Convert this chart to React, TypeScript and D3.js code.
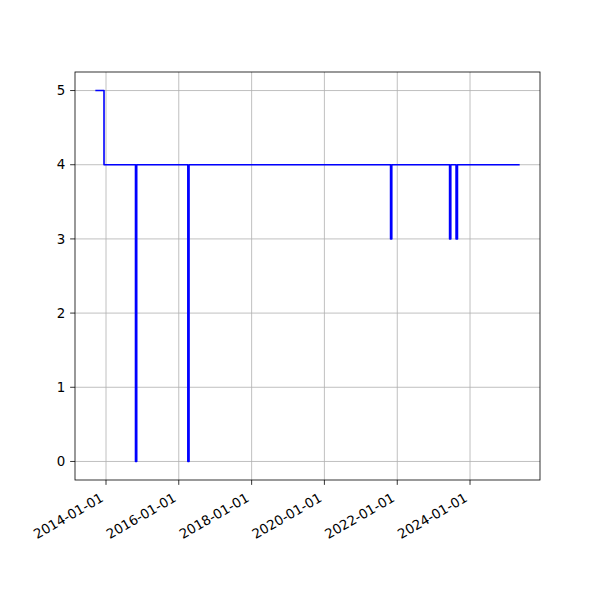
import React from "react";
import * as d3 from "d3";

const dates = [
  "2013-09-24", "2013-12-12", "2013-12-12",
  "2014-10-24", "2014-10-24", "2014-11-05", "2014-11-05",
  "2016-04-01", "2016-04-01", "2016-04-13", "2016-04-13",
  "2021-10-26", "2021-10-26", "2021-11-07", "2021-11-07",
  "2023-06-10", "2023-06-10", "2023-06-22", "2023-06-22",
  "2023-08-14", "2023-08-14", "2023-08-28", "2023-08-28",
  "2025-05-05",
];
const values = [
  5, 5, 4,
  4, 0, 0, 4,
  4, 0, 0, 4,
  4, 3, 3, 4,
  4, 3, 3, 4,
  4, 3, 3, 4,
  4,
];
const yTicks = [0, 1, 2, 3, 4, 5];

const W = 600, H = 600;
const L = 75, R = 540, T = 72, B = 480;
const FONT = "DejaVu Sans, sans-serif";
const FS = 13.4;

export default function App() {
  const parse = d3.utcParse("%Y-%m-%d");
  const pts = dates.map((d, i) => ({ x: parse(d)!, y: values[i] }));
  const [x0, x1] = d3.extent(pts, (p) => +p.x) as [number, number];
  const padX = (x1 - x0) * 0.05;
  const x = d3.scaleUtc().domain([new Date(x0 - padX), new Date(x1 + padX)]).range([L, R]);
  const [y0, y1] = d3.extent(values) as [number, number];
  const padY = (y1 - y0) * 0.05;
  const y = d3.scaleLinear().domain([y0 - padY, y1 + padY]).range([B, T]);
  const xTicks = x.ticks(d3.utcYear.every(2)!);
  const fmt = d3.utcFormat("%Y-%m-%d");
  const line = d3.line<{ x: Date; y: number }>().x((p) => x(p.x)).y((p) => y(p.y));

  return (
    <div style={{ position: "absolute", left: 0, top: 0 }}>
      <svg width={W} height={H} style={{ display: "block", background: "#fff" }}>
        <rect x={0} y={0} width={W} height={H} fill="#fff" />
        <g stroke="#b0b0b0" strokeWidth={0.8}>
          {xTicks.map((t, i) => (
            <line key={"gx" + i} x1={x(t)} x2={x(t)} y1={T} y2={B} />
          ))}
          {yTicks.map((t, i) => (
            <line key={"gy" + i} x1={L} x2={R} y1={y(t)} y2={y(t)} />
          ))}
        </g>
        <path
          d={line(pts) || ""}
          fill="none"
          stroke="#0000ff"
          strokeWidth={1.6}
          strokeLinejoin="round"
          strokeLinecap="square"
        />
        <rect x={L} y={T} width={R - L} height={B - T} fill="none" stroke="#000" strokeWidth={0.8} />
        {xTicks.map((t, i) => (
          <g key={"xt" + i}>
            <line x1={x(t)} x2={x(t)} y1={B} y2={B + 4.86} stroke="#000" strokeWidth={0.8} />
            <g transform={`translate(${x(t)},${B + 9.7 + 13.5}) rotate(-30)`}>
              <text x={0} y={-3.2} textAnchor="end" fontFamily={FONT} fontSize={FS} fill="#000">
                {fmt(t)}
              </text>
            </g>
          </g>
        ))}
        {yTicks.map((t, i) => (
          <g key={"yt" + i}>
            <line x1={L - 4.86} x2={L} y1={y(t)} y2={y(t)} stroke="#000" strokeWidth={0.8} />
            <text x={L - 9.7} y={y(t)} dy="0.35em" textAnchor="end" fontFamily={FONT} fontSize={FS} fill="#000">
              {t}
            </text>
          </g>
        ))}
      </svg>
    </div>
  );
}
